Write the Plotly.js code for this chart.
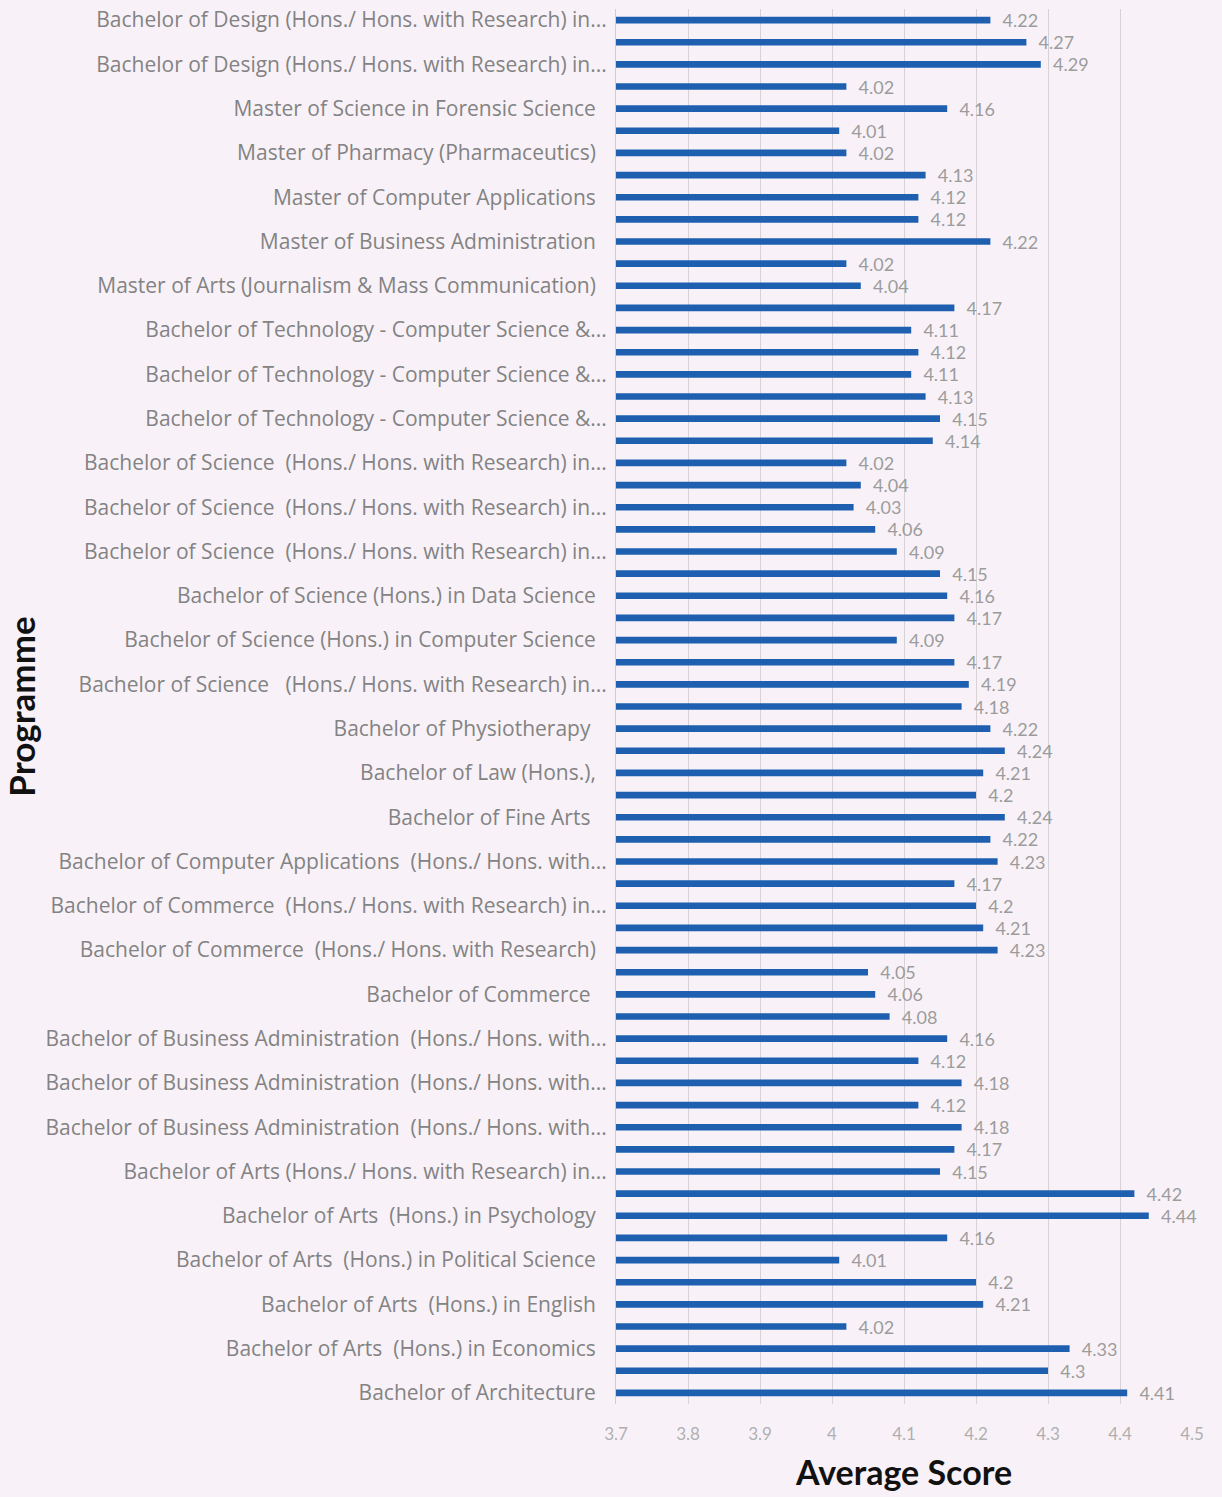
<!DOCTYPE html>
<html>
<head>
<meta charset="utf-8">
<script src="https://cdn.plot.ly/plotly-3.0.1.min.js"></script>
<style>
  html, body { margin: 0; padding: 0; background: #f8f2f8; }
  #chart { width: 1222px; height: 1497px; }
</style>
</head>
<body>
<div id="chart"></div>
<script>
// Labels shown on the axis (every other bar carries a visible label)
const programmeLabels = [
  "Bachelor of Design (Hons./ Hons. with Research) in...",
  "Bachelor of Design (Hons./ Hons. with Research) in...",
  "Master of Science in Forensic Science  ",
  "Master of Pharmacy (Pharmaceutics)  ",
  "Master of Computer Applications  ",
  "Master of Business Administration  ",
  "Master of Arts (Journalism & Mass Communication)  ",
  "Bachelor of Technology - Computer Science &...",
  "Bachelor of Technology - Computer Science &...",
  "Bachelor of Technology - Computer Science &...",
  "Bachelor of Science  (Hons./ Hons. with Research) in...",
  "Bachelor of Science  (Hons./ Hons. with Research) in...",
  "Bachelor of Science  (Hons./ Hons. with Research) in...",
  "Bachelor of Science (Hons.) in Data Science  ",
  "Bachelor of Science (Hons.) in Computer Science  ",
  "Bachelor of Science   (Hons./ Hons. with Research) in...",
  "Bachelor of Physiotherapy   ",
  "Bachelor of Law (Hons.),  ",
  "Bachelor of Fine Arts   ",
  "Bachelor of Computer Applications  (Hons./ Hons. with...",
  "Bachelor of Commerce  (Hons./ Hons. with Research) in...",
  "Bachelor of Commerce  (Hons./ Hons. with Research)  ",
  "Bachelor of Commerce   ",
  "Bachelor of Business Administration  (Hons./ Hons. with...",
  "Bachelor of Business Administration  (Hons./ Hons. with...",
  "Bachelor of Business Administration  (Hons./ Hons. with...",
  "Bachelor of Arts (Hons./ Hons. with Research) in...",
  "Bachelor of Arts  (Hons.) in Psychology  ",
  "Bachelor of Arts  (Hons.) in Political Science  ",
  "Bachelor of Arts  (Hons.) in English  ",
  "Bachelor of Arts  (Hons.) in Economics  ",
  "Bachelor of Architecture  "
];

// Average score of every bar, top to bottom
const averageScores = [
  4.22, 4.27, 4.29, 4.02, 4.16, 4.01, 4.02, 4.13, 4.12, 4.12,
  4.22, 4.02, 4.04, 4.17, 4.11, 4.12, 4.11, 4.13, 4.15, 4.14,
  4.02, 4.04, 4.03, 4.06, 4.09, 4.15, 4.16, 4.17, 4.09, 4.17,
  4.19, 4.18, 4.22, 4.24, 4.21, 4.2, 4.24, 4.22, 4.23, 4.17,
  4.2, 4.21, 4.23, 4.05, 4.06, 4.08, 4.16, 4.12, 4.18, 4.12,
  4.18, 4.17, 4.15, 4.42, 4.44, 4.16, 4.01, 4.2, 4.21, 4.02,
  4.33, 4.3, 4.41
];

const xTickValues = [3.7, 3.8, 3.9, 4, 4.1, 4.2, 4.3, 4.4, 4.5];

const nb = s => s.replace(/ /g, "\u00a0");
const barPositions = averageScores.map((_, i) => i);
const labelPositions = programmeLabels.map((_, i) => i * 2);

const trace = {
  type: "bar",
  orientation: "h",
  x: averageScores,
  y: barPositions,
  width: 0.3,
  marker: { color: "#1f5fb0" },
  text: averageScores.map(v => "\u00a0\u00a0" + String(v)),
  textposition: "outside",
  constraintext: "none",
  cliponaxis: false,
  textfont: { family: "Lato, 'Open Sans', sans-serif", size: 18, color: "#9c9c9c" },
  hoverinfo: "none"
};

const layout = {
  width: 1222,
  height: 1497,
  paper_bgcolor: "#f8f2f8",
  plot_bgcolor: "#f8f2f8",
  margin: { l: 616, r: 30, t: 9, b: 93, pad: 0 },
  showlegend: false,
  font: { family: "Lato, 'Open Sans', sans-serif", color: "#7a7a7a" },
  xaxis: {
    range: [3.7, 4.5],
    tickvals: xTickValues,
    ticktext: xTickValues.map(String),
    showgrid: true,
    gridcolor: "#d6d2d6",
    gridwidth: 1,
    zeroline: false,
    showline: false,
    ticks: "",
    tickfont: { size: 17, color: "#b0b0b0" },
    ticklabelstandoff: 18,
    title: {
      text: "Average Score",
      font: { size: 34, color: "#111111", family: "Lato, 'Open Sans', sans-serif", weight: "bold" },
      standoff: 18
    }
  },
  yaxis: {
    range: [averageScores.length - 0.5, -0.5],
    tickvals: labelPositions,
    ticktext: programmeLabels.map(nb),
    tickfont: { size: 21, color: "#838383", family: "'Open Sans', Lato, sans-serif" },
    showgrid: false,
    zeroline: false,
    showline: true,
    linecolor: "#d0ccd0",
    linewidth: 1,
    ticks: "",
    ticklabelstandoff: 4,
    title: {
      text: "Programme",
      font: { size: 35, color: "#111111", family: "Lato, 'Open Sans', sans-serif", weight: "bold" },
      standoff: 12
    },
    automargin: false
  }
};

Plotly.newPlot("chart", [trace], layout, { displayModeBar: false, staticPlot: true });
</script>
</body>
</html>
